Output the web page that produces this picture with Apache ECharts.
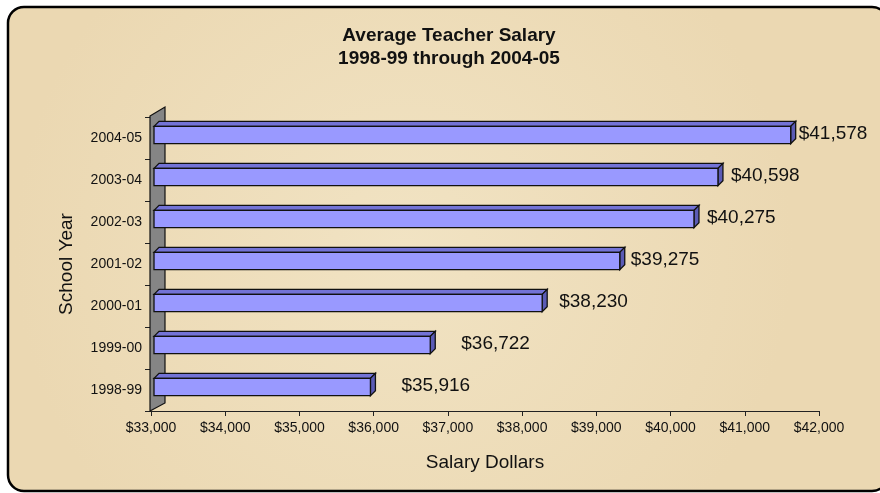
<!DOCTYPE html>
<html>
<head>
<meta charset="utf-8">
<script src="https://cdn.jsdelivr.net/npm/echarts@6/dist/echarts.min.js"></script>
<style>
html, body { margin: 0; padding: 0; background: #fff; }
#chart { width: 880px; height: 493px; }
</style>
</head>
<body>
<div id="chart"></div>
<script>
// data
var years = ['1998-99', '1999-00', '2000-01', '2001-02', '2002-03', '2003-04', '2004-05'];
var salaries = [35916, 36722, 38230, 39275, 40275, 40598, 41578];
var xMin = 33000, xMax = 42000, xStep = 1000;
// label gap after each bar (px), the old Excel chart placed them unevenly
var labelGap = [26, 26, 12, 6, 8, 8, 3];

var FONT = '"Liberation Sans", Arial, sans-serif';
var G = { left: 151, right: 61, top: 117, bottom: 82 };

function money(v) {
  return '$' + v.toLocaleString('en-US');
}

function renderBar(params, api) {
  var v = api.value(0);
  var i = api.value(1);
  var start = api.coord([xMin, i]);
  var end = api.coord([v, i]);
  var band = api.size([0, 1])[1];
  var h = band * 0.41;
  var d = 5;
  var x0 = start[0] + 3, x1 = end[0] + 3;
  var yc = start[1] - 3;
  var y0 = yc - h / 2, y1 = yc + h / 2;
  var line = { stroke: '#111', lineWidth: 1.3 };
  return {
    type: 'group',
    children: [
      { type: 'polygon', shape: { points: [[x0, y0], [x0 + d, y0 - d], [x1 + d, y0 - d], [x1, y0]] },
        style: Object.assign({ fill: '#7373D6' }, line) },
      { type: 'polygon', shape: { points: [[x1, y0], [x1 + d, y0 - d], [x1 + d, y1 - d], [x1, y1]] },
        style: Object.assign({ fill: '#5B5BB5' }, line) },
      { type: 'rect', shape: { x: x0, y: y0, width: x1 - x0, height: h },
        style: Object.assign({ fill: '#9999FF' }, line) },
      { type: 'text', style: { text: money(v), x: x1 + d + labelGap[params.dataIndex], y: yc - 1,
        verticalAlign: 'middle', font: '19px ' + FONT, fill: '#111' } }
    ]
  };
}

var chart = echarts.init(document.getElementById('chart'));
chart.setOption({
  backgroundColor: '#fff',
  animation: false,
  grid: { left: G.left, right: G.right, top: G.top, bottom: G.bottom, containLabel: false },
  xAxis: {
    type: 'value',
    min: xMin, max: xMax, interval: xStep,
    name: 'Salary Dollars',
    nameLocation: 'middle',
    nameGap: 42,
    nameTextStyle: { fontFamily: FONT, fontSize: 19, color: '#111' },
    axisLine: { show: true, lineStyle: { color: '#222', width: 1 } },
    axisTick: { show: true, length: 5, lineStyle: { color: '#222' } },
    axisLabel: { margin: 10, fontFamily: FONT, fontSize: 14, color: '#111',
      formatter: function (v) { return money(v); } },
    splitLine: { show: false }
  },
  yAxis: {
    type: 'category',
    data: years,
    name: 'School Year',
    nameLocation: 'middle',
    nameGap: 75,
    nameTextStyle: { fontFamily: FONT, fontSize: 19, color: '#111' },
    axisLine: { show: false },
    axisTick: { show: true, length: 6, lineStyle: { color: '#222' } },
    axisLabel: { margin: 9, fontFamily: FONT, fontSize: 14, color: '#111' },
    splitLine: { show: false }
  },
  series: [{
    type: 'custom',
    renderItem: renderBar,
    encode: { x: 0, y: 1 },
    data: salaries.map(function (s, i) { return [s, i]; }),
    clip: false,
    z: 3
  }],
  graphic: [
    { type: 'rect', z: -10, silent: true,
      shape: { x: 8, y: 7, width: 880, height: 484, r: 16 },
      style: {
        fill: new echarts.graphic.RadialGradient(0.45, 0.5, 0.8, [
          { offset: 0, color: '#F1E3C3' },
          { offset: 1, color: '#EBD8B2' }
        ]),
        stroke: '#000', lineWidth: 2.5 } },
    { type: 'polygon', z: 1, silent: true,
      shape: { points: [[G.left - 1, G.top - 1], [G.left + 14, G.top - 10],
                        [G.left + 14, 493 - G.bottom - 8], [G.left - 1, 493 - G.bottom]] },
      style: { fill: '#858585', stroke: '#111', lineWidth: 1.2 } },
    { type: 'text', z: 5, silent: true, x: 449, y: 36,
      style: { text: 'Average Teacher Salary', align: 'center', verticalAlign: 'middle',
        font: 'bold 19px ' + FONT, fill: '#111' } },
    { type: 'text', z: 5, silent: true, x: 449, y: 59,
      style: { text: '1998-99 through 2004-05', align: 'center', verticalAlign: 'middle',
        font: 'bold 19px ' + FONT, fill: '#111' } }
  ]
});
</script>
</body>
</html>
